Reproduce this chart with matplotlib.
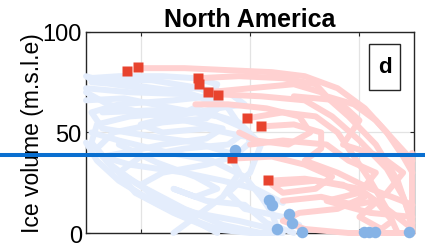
import matplotlib
matplotlib.use('Agg')
import matplotlib.pyplot as plt
from matplotlib.lines import Line2D
from matplotlib.patches import Rectangle

plt.rcParams['font.family'] = ['Liberation Sans', 'DejaVu Sans']

# ensemble trajectories (x, ice volume)
blue_runs = [
    [(1.05, 77), (1.6, 78), (2.4, 78), (3.0, 77), (3.4, 74), (3.3, 68), (2.6, 66), (1.6, 64), (1.1, 60),
     (1.3, 52), (2.2, 48), (3.0, 45), (3.6, 40), (3.8, 30), (3.5, 18), (3.0, 8), (2.6, 0)],
    [(1.1, 75), (2.0, 73), (2.8, 70), (3.3, 66), (2.8, 60), (1.8, 58), (1.2, 54), (1.1, 45), (1.4, 35),
     (1.9, 25), (2.5, 15), (3.0, 6), (3.4, 0)],
    [(1.0, 72), (1.8, 70), (2.9, 69), (3.5, 64), (3.2, 57), (2.4, 55), (1.5, 50), (1.2, 42), (1.5, 32),
     (2.1, 22), (2.8, 12), (3.5, 4), (4.2, 0)],
    [(1.2, 76), (2.2, 76), (3.1, 72), (3.6, 62), (3.9, 50), (3.6, 44), (2.8, 42), (2.0, 38), (1.6, 30),
     (1.9, 20), (2.6, 10), (3.3, 2), (4.0, 0), (4.6, 0)],
    [(1.0, 66), (1.7, 67), (2.6, 62), (3.4, 58), (3.9, 52), (4.0, 45), (3.7, 38), (3.2, 34), (2.4, 30),
     (2.0, 24), (2.3, 16), (3.0, 10), (3.8, 6), (4.4, 2)],
    [(1.3, 60), (2.2, 61), (3.2, 60), (3.8, 55), (4.2, 44), (4.0, 30), (3.6, 20), (3.9, 12), (4.6, 8), (4.9, 4)],
    [(1.1, 50), (1.6, 46), (2.5, 40), (3.3, 36), (3.9, 28), (4.2, 18), (4.4, 10), (4.5, 2)],
    [(1.0, 45), (1.2, 36), (1.6, 26), (2.2, 16), (2.8, 8), (3.3, 3), (3.9, 1)],
    [(1.0, 78), (1.5, 74), (2.3, 71), (3.0, 72), (3.6, 70), (3.9, 64), (3.4, 62), (2.6, 58), (2.0, 54),
     (2.4, 50), (3.2, 52), (3.9, 48)],
    [(1.0, 70), (1.4, 64), (2.0, 60), (2.8, 56), (3.5, 52), (3.2, 47), (2.4, 44), (1.7, 40), (1.3, 38),
     (1.8, 34), (2.8, 30), (3.5, 26), (4.1, 22), (4.6, 15)],
    [(1.6, 44), (2.3, 35), (3.0, 28), (3.4, 22), (3.0, 18), (2.6, 22), (3.2, 16), (3.9, 14), (4.3, 5), (4.8, 0)],
]

pink_runs = [
    [(1.95, 82), (2.8, 82), (3.6, 81), (4.4, 80), (5.0, 78), (5.6, 72), (6.1, 62), (6.5, 50), (6.8, 38), (6.97, 30)],
    [(3.05, 77), (3.8, 78), (4.6, 77), (5.2, 74), (5.4, 68), (5.9, 64), (6.3, 56), (6.7, 44), (6.97, 36)],
    [(3.23, 70), (4.0, 72), (4.8, 74), (5.3, 70), (5.8, 58), (6.3, 44), (6.7, 26), (6.9, 10), (6.97, 0)],
    [(3.41, 69), (4.2, 68), (5.0, 66), (5.5, 58), (6.0, 46), (6.5, 32), (6.8, 18), (6.97, 5)],
    [(3.94, 57), (4.6, 60), (5.2, 58), (5.6, 50), (5.9, 38), (6.2, 26), (6.5, 12), (6.7, 0)],
    [(4.2, 53), (4.8, 54), (5.3, 50), (5.3, 42), (5.0, 36), (5.6, 30), (6.2, 22), (6.97, 14)],
    [(3.67, 37), (4.4, 38), (5.0, 34), (5.5, 28), (5.2, 22), (4.6, 20), (4.4, 24), (5.2, 26), (6.0, 22),
     (6.6, 10), (6.97, 2)],
    [(4.32, 26), (5.0, 27), (5.7, 24), (6.1, 18), (5.6, 12), (4.9, 10), (4.6, 6), (5.0, 2), (5.8, 0), (6.97, 0)],
    [(3.0, 64), (3.6, 64), (4.3, 62), (4.9, 58), (5.1, 50), (4.7, 44), (4.1, 46), (3.8, 50)],
    [(6.97, 40), (6.97, 20), (6.97, 0)],
    [(4.0, 44), (4.6, 46), (5.4, 44), (5.8, 36), (6.3, 30), (6.0, 20), (5.4, 16), (6.2, 10), (6.97, 8)],
    [(4.8, 68), (5.6, 66), (6.0, 56), (5.7, 44), (6.4, 38), (6.8, 30), (6.5, 20), (6.0, 8), (6.4, 2)],
    [(4.6, 16), (5.3, 18), (5.9, 14), (6.3, 16), (6.6, 6), (6.3, 0)],
]

# start / end states
red_x = [1.75, 1.95, 3.05, 3.07, 3.23, 3.41, 3.94, 4.20, 3.67, 4.32]
red_y = [80.6, 82.6, 77.0, 74.0, 70.1, 68.7, 57.2, 53.2, 37.3, 26.4]
blue_x = [3.72, 4.34, 4.40, 4.71, 4.76, 4.49, 4.95, 6.08, 6.17, 6.28, 6.90]
blue_y = [41.3, 16.4, 13.9, 9.5, 5.0, 2.0, 0.5, 0.5, 0.5, 0.5, 0.5]

yticks = [0, 50, 100]
xticks = [2, 4, 6]

fig = plt.figure(figsize=(4.25, 2.51), dpi=100)
ax = fig.add_axes([0.2024, 0.0677, 0.772, 0.801])

for run in blue_runs:
    xs, ys = zip(*run)
    ax.plot(xs, ys, color='#e4edfc', lw=4.3, solid_capstyle='round', solid_joinstyle='round',
            zorder=3, clip_on=False)
for run in pink_runs:
    xs, ys = zip(*run)
    ax.plot(xs, ys, color='#ffd1d1', lw=4.3, solid_capstyle='round', solid_joinstyle='round',
            zorder=3.5, clip_on=False)

ax.plot(red_x, red_y, 's', color='#e8432e', ms=7.5, mec='none', zorder=5, clip_on=False)
ax.plot(blue_x, blue_y, 'o', color='#86b3e6', ms=8.3, mec='none', zorder=5, clip_on=False)

ax.set_xlim(1, 7)
ax.set_ylim(0, 100)
ax.set_xticks(xticks)
ax.set_yticks(yticks)
ax.grid(True, color='#e3e3e3', lw=0.9)
ax.set_axisbelow(True)
ax.tick_params(direction='in', length=3, top=True, right=True, labelbottom=False,
               labelsize=17, color='#262626', pad=3)
for s in ax.spines.values():
    s.set_color('#262626')
    s.set_linewidth(1.0)
    s.set_zorder(2.5)

ax.set_title('North America', fontsize=18, fontweight='bold', pad=4)
ax.set_ylabel('Ice volume (m.s.l.e)', fontsize=16.5, labelpad=-1)

ax.add_patch(Rectangle((0.863, 0.711), 0.094, 0.229, transform=ax.transAxes,
                       facecolor='white', edgecolor='#262626', lw=1.0, zorder=6))
ax.text(0.910, 0.826, 'd', transform=ax.transAxes, ha='center', va='center',
        fontsize=16, fontweight='bold', zorder=7)

fig.add_artist(Line2D([0, 1], [0.378, 0.378], transform=fig.transFigure,
                     color='#0a6fd0', lw=2.9, zorder=10))

fig.savefig('out.png', dpi=100)
